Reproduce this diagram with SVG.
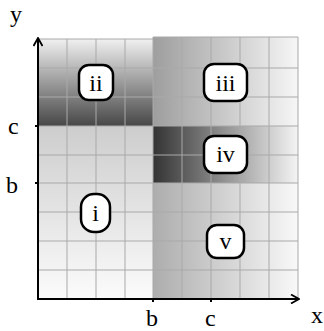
<svg xmlns="http://www.w3.org/2000/svg" width="324" height="331" viewBox="0 0 324 331">
<style>
.grid{stroke:#a9a9a9;stroke-width:1;fill:none}
.axis{stroke:#000;stroke-width:2;fill:none}
.lbl{font-family:"Liberation Serif","DejaVu Serif",serif;font-size:24px;fill:#000}
.node rect{fill:#fff;stroke:#000;stroke-width:2.5}
.node text{font-family:"Liberation Serif","DejaVu Serif",serif;font-size:24px;text-anchor:middle;fill:#000}
</style>
<defs>
<linearGradient id="gii" x1="0" y1="0" x2="0" y2="1"><stop offset="0" stop-color="#f0f0f0"/><stop offset="1" stop-color="#474747"/></linearGradient>
<linearGradient id="gi" x1="0" y1="0" x2="0" y2="1"><stop offset="0" stop-color="#cdcdcd"/><stop offset="1" stop-color="#fbfbfb"/></linearGradient>
<linearGradient id="giii" x1="0" y1="0" x2="1" y2="0"><stop offset="0" stop-color="#9e9e9e"/><stop offset="1" stop-color="#f6f6f6"/></linearGradient>
<linearGradient id="giv" x1="0" y1="0" x2="1" y2="0"><stop offset="0" stop-color="#333"/><stop offset="1" stop-color="#f4f4f4"/></linearGradient>
<linearGradient id="gv" x1="0" y1="0" x2="1" y2="0"><stop offset="0" stop-color="#adadad"/><stop offset="1" stop-color="#f8f8f8"/></linearGradient>
<marker id="arr" viewBox="0 0 10 10" refX="9" refY="5" markerWidth="10" markerHeight="10" markerUnits="userSpaceOnUse" orient="auto"><path d="M1,0.5 L9,5 L1,9.5" fill="none" stroke="#000" stroke-width="1.8"/></marker>
</defs>
<g id="regions">
<rect x="38" y="39" width="115" height="87" fill="url(#gii)"/>
<rect x="38" y="126" width="115" height="172" fill="url(#gi)"/>
<rect x="153" y="37" width="145" height="89" fill="url(#giii)"/>
<rect x="153" y="126" width="145" height="57" fill="url(#giv)"/>
<rect x="153" y="183" width="145" height="115" fill="url(#gv)"/>
</g>
<g id="grid" class="grid">
<path d="M67,39V298M96,39V298M125,39V298M153,37V298M182,37V298M211,37V298M240,37V298M269,37V298M298,37V298"/>
<path d="M38,39H153M153,37H298M38,68H298M38,97H298M38,126H298M38,155H298M38,183H298M38,212H298M38,241H298M38,270H298"/>
</g>
<g id="connectors">
<path class="axis" d="M38,299V38" marker-end="url(#arr)"/>
<path class="axis" d="M37,299H299" marker-end="url(#arr)"/>
<path d="M35,126h3M35,183h3M153,299v3M211,299v3" stroke="#000" stroke-width="2"/>
</g>
<g id="labels">
<text class="lbl" x="10" y="22">y</text>
<text class="lbl" x="311" y="323">x</text>
<text class="lbl" x="8" y="134">c</text>
<text class="lbl" x="6" y="193">b</text>
<text class="lbl" x="146" y="326" font-size="23">b</text>
<text class="lbl" x="205" y="326">c</text>
</g>
<g id="node-ii" class="node"><rect x="79" y="65" width="34" height="35" rx="10"/><text x="96" y="91">ii</text></g>
<g id="node-iii" class="node"><rect x="204" y="64" width="43" height="37" rx="10"/><text x="225.5" y="91">iii</text></g>
<g id="node-iv" class="node"><rect x="204" y="136" width="43" height="37" rx="10"/><text x="225.5" y="162">iv</text></g>
<g id="node-i" class="node"><rect x="81" y="194" width="29" height="38" rx="13"/><text x="95.5" y="221">i</text></g>
<g id="node-v" class="node"><rect x="207" y="225" width="37" height="33" rx="10"/><text x="225.5" y="249">v</text></g>
</svg>
